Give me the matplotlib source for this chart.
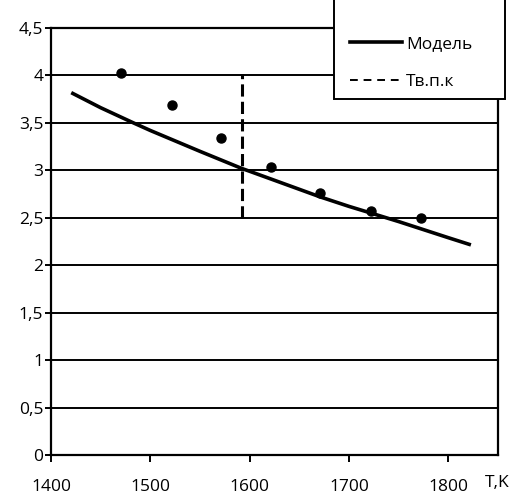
import matplotlib
matplotlib.use('Agg')
import matplotlib.pyplot as plt
from matplotlib.patches import Rectangle
from matplotlib.lines import Line2D
from matplotlib.ticker import FuncFormatter

plt.rcParams['font.family'] = ['Open Sans', 'DejaVu Sans']
plt.rcParams['font.size'] = 12.5

# experimental points
T_exp = [1470, 1522, 1571, 1621, 1671, 1722, 1772]
y_exp = [4.03, 3.69, 3.34, 3.04, 2.76, 2.57, 2.50]

# model curve
T_mod = [1422, 1450, 1483, 1500, 1550, 1592, 1600, 1650, 1671, 1700, 1722, 1750, 1800, 1821]
y_mod = [3.81, 3.66, 3.50, 3.42, 3.20, 3.02, 2.99, 2.80, 2.72, 2.62, 2.55, 2.46, 2.29, 2.22]

# vertical marker line
T_vpk = [1592, 1592]
y_vpk = [2.5, 4.02]

xticks = [1400, 1500, 1600, 1700, 1800]
yticks = [0, 0.5, 1, 1.5, 2, 2.5, 3, 3.5, 4, 4.5]

fig = plt.figure(figsize=(5.1, 4.95), dpi=100)
ax = fig.add_axes([51/510, 40/495, 447/510, 427/495])

ax.plot(T_exp, y_exp, 'o', color='black', markersize=6.5, zorder=4)
ax.plot(T_mod, y_mod, '-', color='black', lw=2.6, zorder=3)
ax.plot(T_vpk, y_vpk, '--', color='black', lw=2.2, dashes=(4, 1.7), zorder=3)

ax.set_xlim(1400, 1850)
ax.set_ylim(0, 4.5)
ax.set_xticks(xticks)
ax.set_yticks(yticks)
ax.yaxis.set_major_formatter(FuncFormatter(lambda v, p: ('%g' % v).replace('.', ',')))
ax.grid(axis='y', color='black', lw=1.4)
ax.set_axisbelow(True)
for s in ax.spines.values():
    s.set_linewidth(1.6)
    s.set_color('black')
ax.tick_params(axis='x', length=5, width=1.4, pad=12)
ax.tick_params(axis='y', length=4.5, width=1.4, pad=1)

fig.text(497/510, 1 - 483/495, 'T,K', ha='center', va='center', fontsize=12.5)

# legend box, runs off the top of the figure
fig.patches.append(Rectangle((334/510, 1 - 99/495), 171/510, 0.3,
                             transform=fig.transFigure, facecolor='white',
                             edgecolor='black', lw=1.4, zorder=2))
handles = [Line2D([], [], color='black', lw=2.6),
           Line2D([], [], color='black', lw=1.4, ls='--', dashes=(4, 3))]
fig.legend(handles, ['Модель', 'Тв.п.к'], loc='upper left',
           bbox_to_anchor=(334/510, 1 - 20/495), frameon=False,
           handlelength=3.0, handletextpad=0.25, labelspacing=1.3, fontsize=12.5)

fig.savefig('out.png', dpi=100)
